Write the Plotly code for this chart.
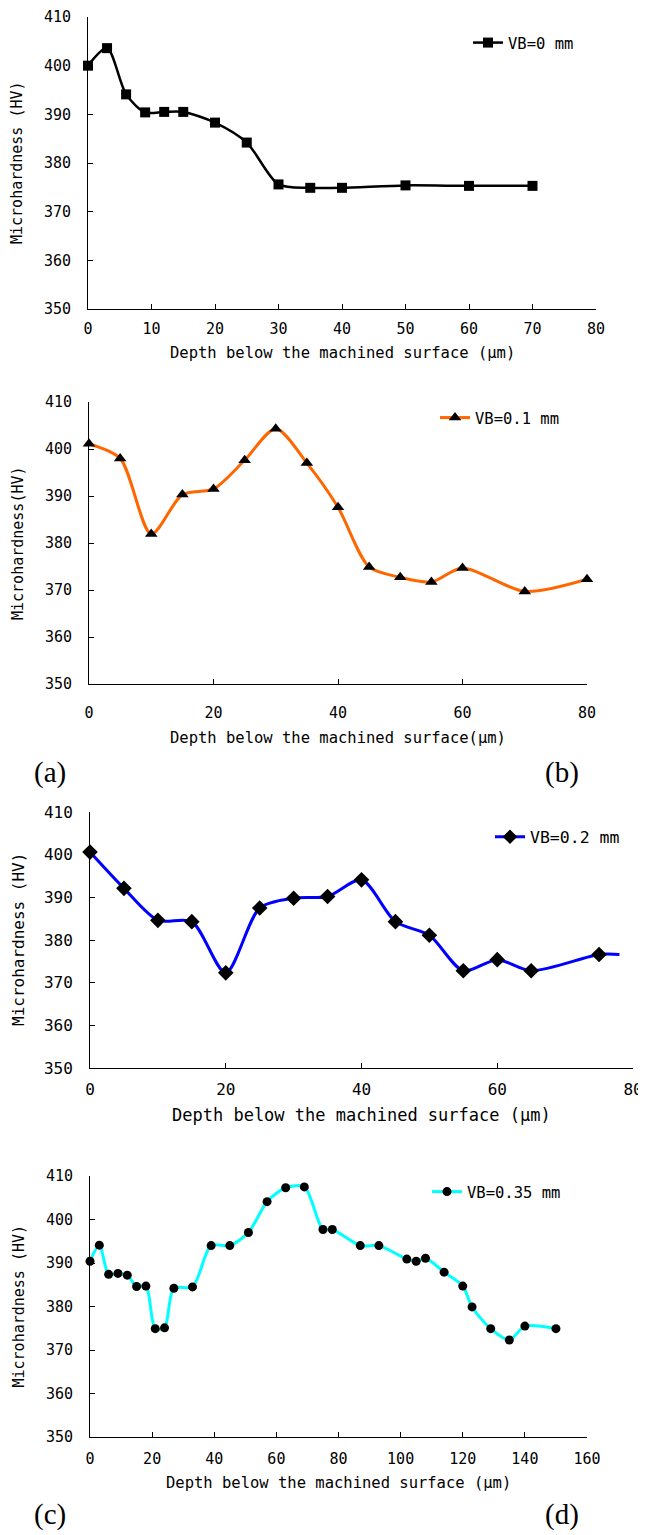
import plotly.graph_objects as go

# page body has an 8px margin; figure is sized so it fills the 646x1535 window
OFF = 8
W, H = 646 - OFF, 1535 - OFF

# ---------------- data ----------------
depth_a = [0, 3, 6, 9, 12, 15, 20, 25, 30, 35, 40, 50, 60, 70]
hv_a = [400.0, 403.6, 394.1, 390.4, 390.5, 390.5, 388.3, 384.2, 375.6, 374.9, 374.9, 375.4, 375.3, 375.3]

depth_b = [0, 5, 10, 15, 20, 25, 30, 35, 40, 45, 50, 55, 60, 70, 80]
hv_b = [401.1, 398.0, 381.9, 390.3, 391.5, 397.6, 404.3, 397.0, 387.6, 374.9, 372.7, 371.7, 374.7, 369.7, 372.3]

depth_c = [0, 5, 10, 15, 20, 25, 30, 35, 40, 45, 50, 55, 60, 65, 75, 78]
hv_c = [400.6, 392.1, 384.6, 384.3, 372.3, 387.5, 389.8, 390.2, 394.1, 384.3, 381.1, 372.8, 375.4, 372.8, 376.6, 376.6]

depth_d = [0, 3, 6, 9, 12, 15, 18, 21, 24, 27, 33, 39, 45, 51, 57, 63, 69, 75, 78,
           87, 93, 102, 105, 108, 114, 120, 123, 129, 135, 140, 150]
hv_d = [390.4, 394.1, 387.4, 387.6, 387.2, 384.6, 384.7, 374.9, 375.1, 384.2, 384.5, 394.0, 394.0,
        397.0, 404.1, 407.3, 407.5, 397.7, 397.7, 394.0, 394.0, 390.9, 390.4, 391.1, 387.9,
        384.7, 379.9, 374.9, 372.3, 375.5, 374.9]

legend_names = ["VB=0 mm", "VB=0.1 mm", "VB=0.2 mm", "VB=0.35 mm"]
x_titles = ["Depth below the machined surface (μm)",
            "Depth below the machined surface(μm)",
            "Depth below the machined surface (μm)",
            "Depth below the machined surface (μm)"]
y_titles = ["Microhardness (HV)", "Microhardness(HV)", "Microhardness (HV)", "Microhardness (HV)"]
panel_labels = ["(a)", "(b)", "(c)", "(d)"]
x_ranges = [[0, 80], [0, 80], [0, 80], [0, 160]]
x_dticks = [10, 20, 20, 20]
y_range = [350, 410]

# ---------------- layout helpers (window pixel -> paper) ----------------
def px(x):
    return (x - OFF) / W

def py(y):
    return 1 - (y - OFF) / H

# plot areas: (left, right, top, bottom) in window pixels
areas = [(88, 596, 17, 309), (89, 587, 402, 684), (90, 633, 812, 1068), (90, 587, 1176, 1437)]
xlab_standoff = [6, 15, 7, 8]
legend_pos = [(468, 43), (435, 418), (490, 837), (427, 1192)]
xtitle_y = [353, 738, 1115, 1483]
ytitle_x = [17, 18, 18, 18]
tick_fs = [15, 15, 16, 15]
title_fs = [15.5, 15.5, 17, 15.5]
ytitle_fs = [15, 15, 16, 15]
legend_fs = [15.5, 15.5, 16.5, 15.5]

MONO = "DejaVu Sans Mono"
fig = go.Figure()

series = [(depth_a, hv_a, "black", 2.5, "square", 10),
          (depth_b, hv_b, "#FF6600", 3, "triangle-up", 11),
          (depth_c, hv_c, "#0000FF", 3, "diamond", 12),
          (depth_d, hv_d, "#00FFFF", 3, "circle", 9)]

for i, (xs, ys, col, lw, sym, ms) in enumerate(series):
    sizes = [ms] * len(xs)
    if i == 2:
        sizes[-1] = 0  # line continues past last marker
    sfx = "" if i == 0 else str(i + 1)
    fig.add_trace(go.Scatter(
        x=xs, y=ys, mode="lines+markers", name=legend_names[i],
        line=dict(color=col, width=lw, shape="spline", smoothing=0.8),
        marker=dict(symbol=sym, size=sizes if i == 2 else ms, color="black",
                    opacity=1, line=dict(width=0)),
        xaxis="x" + sfx, yaxis="y" + sfx, legend="legend" + sfx,
        cliponaxis=False,
    ))

layout = dict(width=W, height=H, margin=dict(l=0, r=0, t=0, b=0, autoexpand=False),
              paper_bgcolor="white", plot_bgcolor="white", showlegend=True)

annotations = []
for i, (l, r, t, b) in enumerate(areas):
    sfx = "" if i == 0 else str(i + 1)
    layout["xaxis" + sfx] = dict(
        domain=[px(l), px(r)], anchor="y" + sfx, range=x_ranges[i], dtick=x_dticks[i], tick0=0,
        showline=True, linecolor="black", linewidth=1, showgrid=False, zeroline=False,
        ticks="inside", ticklen=5, tickcolor="black", tickwidth=1, automargin=False,
        tickfont=dict(family=MONO, size=tick_fs[i], color="black"),
        ticklabelstandoff=xlab_standoff[i],
    )
    layout["yaxis" + sfx] = dict(
        domain=[py(b), py(t)], anchor="x" + sfx, range=y_range, dtick=10,
        showline=True, linecolor="black", linewidth=1, showgrid=False, zeroline=False,
        ticks="inside", ticklen=5, tickcolor="black", tickwidth=1, automargin=False,
        tickfont=dict(family=MONO, size=tick_fs[i], color="black"), ticklabelstandoff=13,
    )
    lx, ly = legend_pos[i]
    layout["legend" + sfx] = dict(
        x=px(lx), y=py(ly), xanchor="left", yanchor="middle",
        bgcolor="rgba(0,0,0,0)", borderwidth=0,
        font=dict(family=MONO, size=legend_fs[i], color="black"),
    )
    annotations.append(dict(
        text=x_titles[i], x=px((l + r) / 2), y=py(xtitle_y[i]), xref="paper", yref="paper",
        xanchor="center", yanchor="middle", showarrow=False,
        font=dict(family=MONO, size=title_fs[i], color="black"),
    ))
    annotations.append(dict(
        text=y_titles[i], x=px(ytitle_x[i]), y=py((t + b) / 2), xref="paper", yref="paper",
        xanchor="center", yanchor="middle", showarrow=False, textangle=-90,
        font=dict(family=MONO, size=ytitle_fs[i], color="black"),
    ))

label_pos = [(50, 772), (562, 772), (50, 1514), (562, 1514)]
for lab, (lx, ly) in zip(panel_labels, label_pos):
    annotations.append(dict(
        text=lab, x=px(lx), y=py(ly), xref="paper", yref="paper",
        xanchor="center", yanchor="middle", showarrow=False,
        font=dict(family="Liberation Serif", size=29, color="black"),
    ))

layout["annotations"] = annotations
fig.update_layout(**layout)
fig.write_html("out.html")
